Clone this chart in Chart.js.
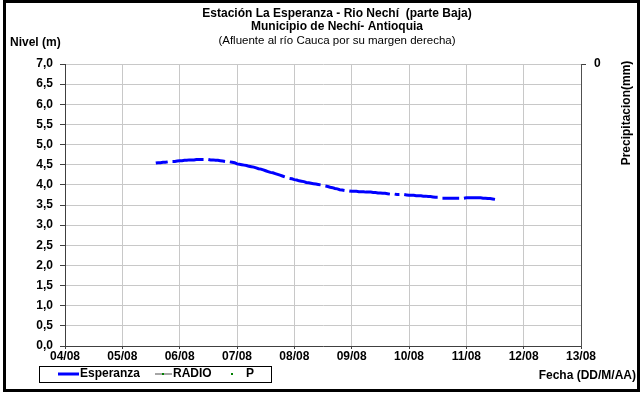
<!DOCTYPE html>
<html>
<head>
<meta charset="utf-8">
<script src="https://cdn.jsdelivr.net/npm/chart.js@4"></script>
<style>
  body { margin: 0; background: #fff; }
</style>
</head>
<body>
<canvas id="chart" width="642" height="394"></canvas>
<script>
const dayLabels = ["04/08", "05/08", "06/08", "07/08", "08/08", "09/08", "10/08", "11/08", "12/08", "13/08"];
const levelTicks = [0, 0.5, 1, 1.5, 2, 2.5, 3, 3.5, 4, 4.5, 5, 5.5, 6, 6.5, 7];

// hourly readings, first one on 05/08 at 14:00 (null = missing reading)
const firstDay = 1;
const firstHour = 14;
const esperanza = [
  // 05/08 14h-23h
  4.54, 4.55, 4.55, 4.56, 4.56, 4.57, null, 4.58, 4.58, 4.59,
  // 06/08
  4.60, 4.60, 4.61, 4.61, 4.62, 4.62, 4.62, 4.63, 4.63, 4.63, 4.63, null,
  4.63, 4.62, 4.62, 4.61, 4.61, 4.60, 4.59, 4.58, null, 4.57, 4.56, 4.55,
  // 07/08
  4.52, 4.51, 4.50, 4.49, 4.48, 4.46, 4.45, 4.44, 4.42, 4.40, 4.39, 4.37,
  4.35, 4.33, 4.31, 4.30, 4.28, 4.26, 4.24, 4.22, 4.20, null, 4.16, 4.15,
  // 08/08
  4.13, 4.12, 4.10, 4.09, 4.08, 4.06, 4.05, 4.04, 4.03, 4.02, 4.01, 4.00,
  null, 3.97, 3.96, 3.94, 3.93, 3.91, 3.90, 3.88, 3.87, 3.86, null, 3.85,
  // 09/08
  3.84, 3.84, 3.84, 3.83, 3.83, 3.83, 3.82, 3.82, 3.82, 3.81, 3.81, 3.80,
  3.80, 3.79, 3.79, 3.78, 3.77, null, 3.77, 3.76, 3.76, null, 3.76, 3.75,
  // 10/08
  3.74, 3.74, 3.74, 3.73, 3.73, 3.73, 3.72, 3.72, 3.71, 3.71, 3.70, 3.69,
  3.69, null, 3.67, 3.67, 3.67, 3.67, 3.67, 3.67, 3.67, 3.67, null, 3.67,
  // 11/08 0h-12h
  3.68, 3.68, 3.68, 3.68, 3.68, 3.68, 3.68, 3.67, 3.67, 3.66, 3.66, 3.65, 3.64
];
const radio = [];
const precipitacion = [];

const esperanzaPoints = esperanza.map((v, i) => ({
  x: firstDay + (firstHour + i) / 24,
  y: v
}));

const FONT = '"Liberation Sans", Arial, sans-serif';
const comma = v => v.toFixed(1).replace(".", ",");

const extras = {
  id: "extras",
  beforeDraw(chart) {
    const ctx = chart.ctx;
    ctx.save();
    ctx.fillStyle = "#fff";
    ctx.fillRect(0, 0, chart.width, chart.height);
    ctx.restore();
  },
  afterDraw(chart) {
    const ctx = chart.ctx;
    const ds = chart.data.datasets;
    ctx.save();
    ctx.fillStyle = "#000";
    ctx.textBaseline = "middle";

    // titles
    ctx.textAlign = "center";
    ctx.font = "bold 12px " + FONT;
    ctx.fillText("Estación La Esperanza - Rio Nechí  (parte Baja)", 337, 14);
    ctx.fillText("Municipio de Nechí- Antioquia", 337, 27);
    ctx.font = "11.5px " + FONT;
    ctx.fillText("(Afluente al río Cauca por su margen derecha)", 337, 41);

    ctx.font = "bold 12px " + FONT;
    ctx.textAlign = "left";
    ctx.fillText("Nivel (m)", 10, 43);
    ctx.textAlign = "right";
    ctx.fillText("Fecha (DD/M/AA)", 636, 376);

    ctx.save();
    ctx.translate(627, 113);
    ctx.rotate(-Math.PI / 2);
    ctx.textAlign = "center";
    ctx.fillText("Precipitacion(mm)", 0, 0);
    ctx.restore();

    // legend box
    ctx.strokeStyle = "#000";
    ctx.lineWidth = 1;
    ctx.strokeRect(39.5, 366.5, 232, 16);
    const ly = 374;
    ctx.textAlign = "left";
    ctx.strokeStyle = ds[0].borderColor;
    ctx.lineWidth = 3;
    ctx.beginPath(); ctx.moveTo(58, ly); ctx.lineTo(79, ly); ctx.stroke();
    ctx.fillText(ds[0].label, 80, ly);
    ctx.strokeStyle = ds[1].borderColor;
    ctx.lineWidth = 2;
    ctx.beginPath(); ctx.moveTo(155, ly); ctx.lineTo(172, ly); ctx.stroke();
    ctx.fillStyle = ds[1].pointBackgroundColor;
    ctx.fillRect(162, ly - 1, 2, 2);
    ctx.fillStyle = "#000";
    ctx.fillText(ds[1].label, 173, ly);
    ctx.fillStyle = ds[2].pointBackgroundColor;
    ctx.fillRect(231, ly - 1, 2, 2);
    ctx.fillStyle = "#000";
    ctx.fillText(ds[2].label, 246, ly);

    // outer frame
    ctx.strokeStyle = "#000";
    ctx.lineWidth = 3;
    ctx.strokeRect(4.5, 1.5, 634, 389);
    ctx.restore();
  }
};

new Chart(document.getElementById("chart"), {
  type: "line",
  data: {
    datasets: [
      {
        label: "Esperanza",
        data: esperanzaPoints,
        borderColor: "#0000ff",
        borderWidth: 3,
        pointRadius: 0,
        spanGaps: false,
        yAxisID: "y"
      },
      {
        label: "RADIO",
        data: radio,
        borderColor: "#a6a6a6",
        pointBackgroundColor: "#008000",
        pointRadius: 1,
        yAxisID: "y"
      },
      {
        label: "P",
        data: precipitacion,
        showLine: false,
        pointBackgroundColor: "#008000",
        pointRadius: 1,
        yAxisID: "y2"
      }
    ]
  },
  options: {
    responsive: false,
    animation: false,
    layout: { padding: { top: 64, left: 0, right: 0, bottom: 0 } },
    plugins: {
      legend: { display: false },
      tooltip: { enabled: false }
    },
    scales: {
      x: {
        type: "linear",
        min: 0,
        max: dayLabels.length - 1,
        afterBuildTicks: s => { s.ticks = dayLabels.map((_, i) => ({ value: i })); },
        ticks: {
          callback: v => dayLabels[v],
          color: "#000",
          font: { family: FONT, size: 12, weight: "bold" },
          padding: 0,
          maxRotation: 0,
          autoSkip: false
        },
        grid: { color: "#c8c8c8", tickLength: 3, tickColor: "#404040" },
        border: { color: "#404040" },
        afterFit: s => { s.height = 48; }
      },
      y: {
        min: 0,
        max: 7,
        afterBuildTicks: s => { s.ticks = levelTicks.map(v => ({ value: v })); },
        ticks: {
          callback: v => comma(v),
          color: "#000",
          font: { family: FONT, size: 12, weight: "bold" },
          padding: 7
        },
        grid: { color: "#c8c8c8", tickLength: 5, tickColor: "#404040" },
        border: { color: "#404040" },
        afterFit: s => { s.width = 65; }
      },
      y2: {
        position: "right",
        reverse: true,
        min: 0,
        max: 1,
        afterBuildTicks: s => { s.ticks = [{ value: 0 }]; },
        ticks: {
          color: "#000",
          font: { family: FONT, size: 12, weight: "bold" },
          padding: 8
        },
        grid: { drawOnChartArea: false, tickLength: 5, tickColor: "#404040" },
        border: { color: "#505050" },
        afterFit: s => { s.width = 61; }
      }
    }
  },
  plugins: [extras]
});
</script>
</body>
</html>
